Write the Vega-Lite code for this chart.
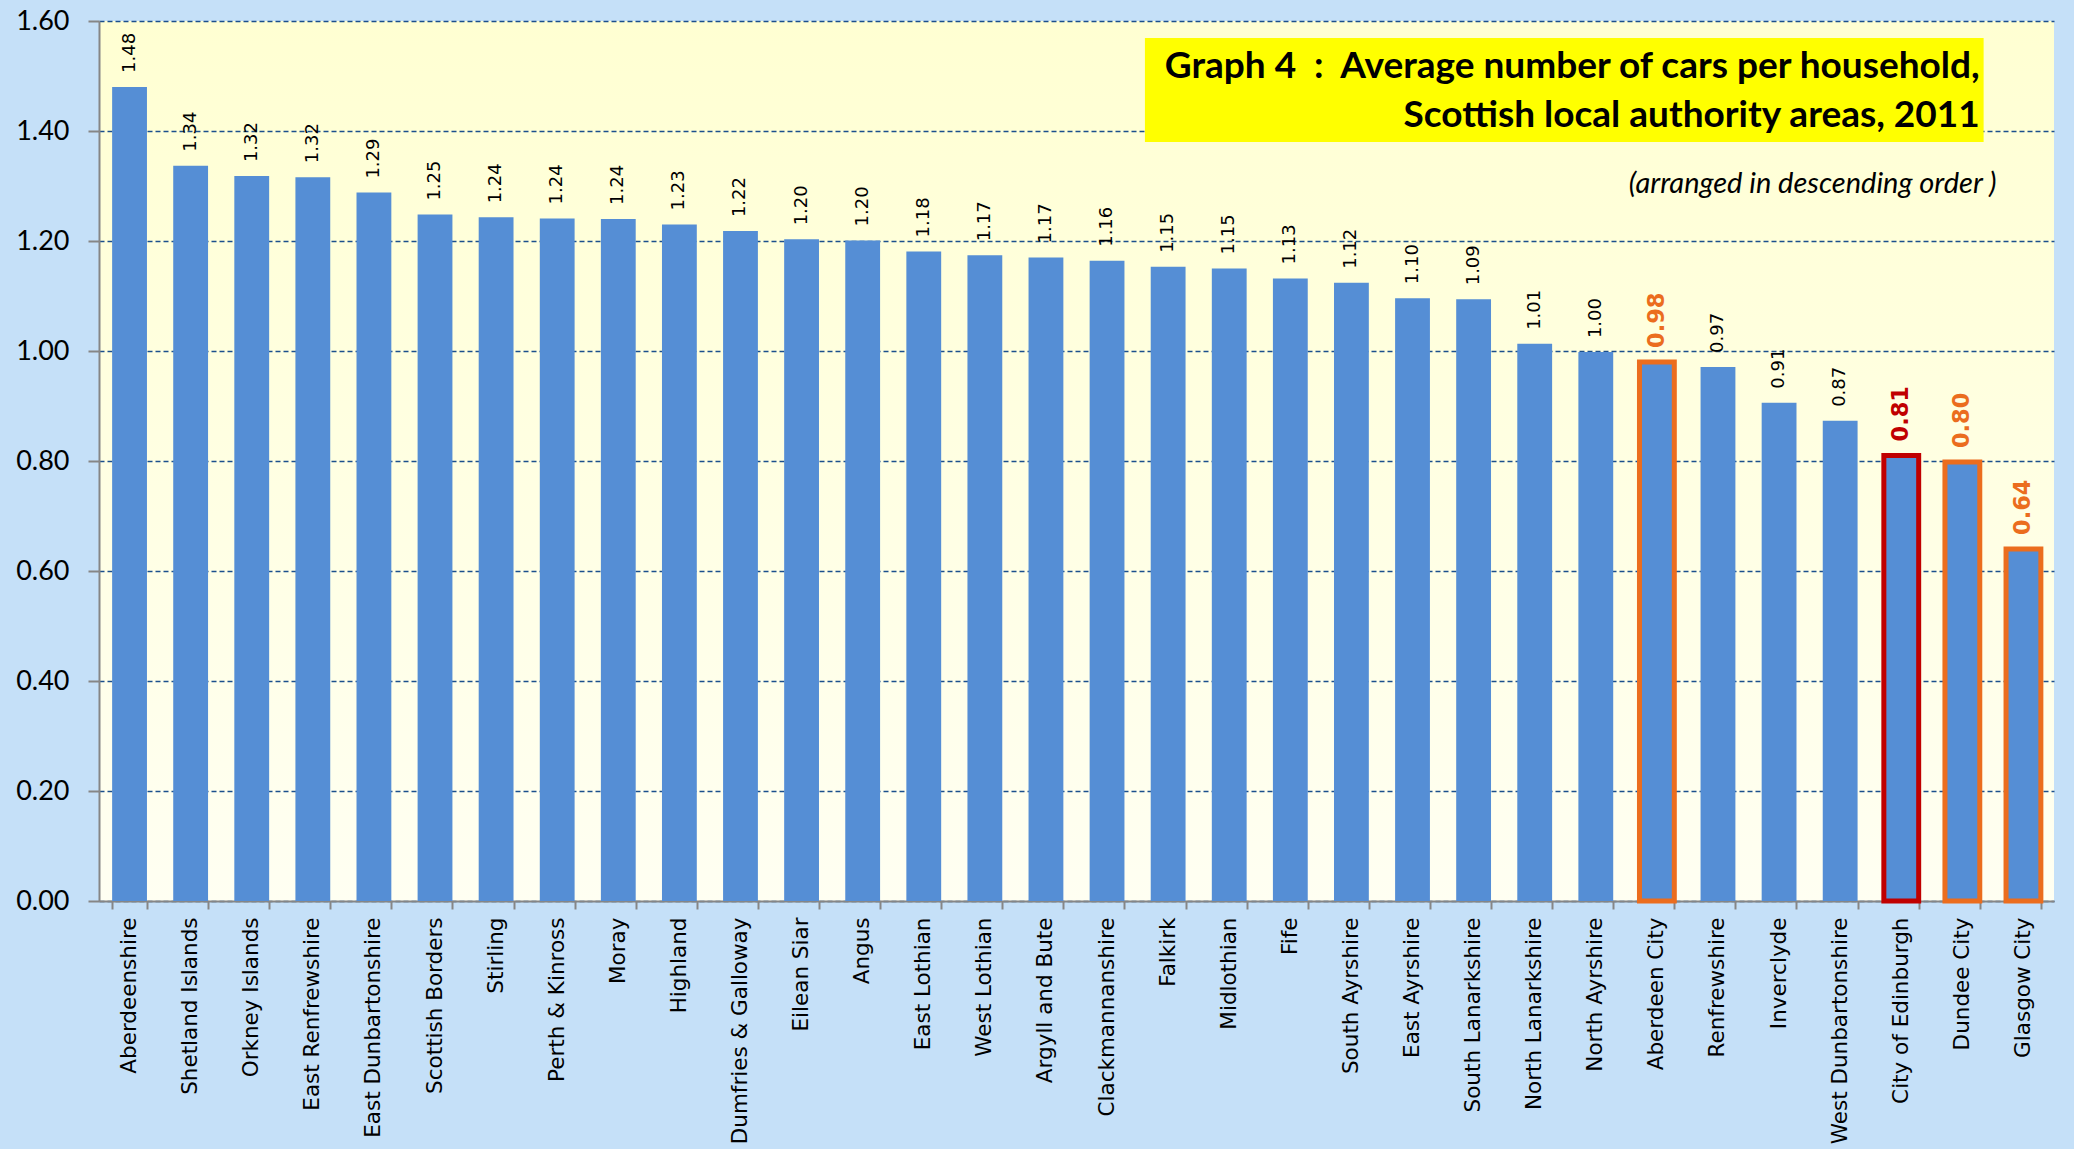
{
  "$schema": "https://vega.github.io/schema/vega-lite/v6.json",
  "width": 1955,
  "height": 880,
  "autosize": {"type": "none"},
  "padding": {"left": 99, "top": 21, "right": 20, "bottom": 248},
  "background": "#C5E0F8",
  "config": {
    "view": {
      "stroke": null,
      "fill": {"gradient": "linear", "x1": 0, "y1": 0, "x2": 0, "y2": 1, "stops": [{"offset": 0, "color": "#FFFFD2"}, {"offset": 1, "color": "#FFFFF2"}]}
    },
    "font": "DejaVu Sans"
  },
  "data": {
    "values": [
      {"area": "Aberdeenshire", "value": 1.48, "highlight": "none"},
      {"area": "Shetland Islands", "value": 1.337, "highlight": "none"},
      {"area": "Orkney Islands", "value": 1.318, "highlight": "none"},
      {"area": "East Renfrewshire", "value": 1.316, "highlight": "none"},
      {"area": "East Dunbartonshire", "value": 1.288, "highlight": "none"},
      {"area": "Scottish Borders", "value": 1.248, "highlight": "none"},
      {"area": "Stirling", "value": 1.243, "highlight": "none"},
      {"area": "Perth & Kinross", "value": 1.241, "highlight": "none"},
      {"area": "Moray", "value": 1.24, "highlight": "none"},
      {"area": "Highland", "value": 1.23, "highlight": "none"},
      {"area": "Dumfries & Galloway", "value": 1.218, "highlight": "none"},
      {"area": "Eilean Siar", "value": 1.203, "highlight": "none"},
      {"area": "Angus", "value": 1.201, "highlight": "none"},
      {"area": "East Lothian", "value": 1.181, "highlight": "none"},
      {"area": "West Lothian", "value": 1.174, "highlight": "none"},
      {"area": "Argyll and Bute", "value": 1.17, "highlight": "none"},
      {"area": "Clackmannanshire", "value": 1.164, "highlight": "none"},
      {"area": "Falkirk", "value": 1.153, "highlight": "none"},
      {"area": "Midlothian", "value": 1.15, "highlight": "none"},
      {"area": "Fife", "value": 1.132, "highlight": "none"},
      {"area": "South Ayrshire", "value": 1.124, "highlight": "none"},
      {"area": "East Ayrshire", "value": 1.096, "highlight": "none"},
      {"area": "South Lanarkshire", "value": 1.094, "highlight": "none"},
      {"area": "North Lanarkshire", "value": 1.013, "highlight": "none"},
      {"area": "North Ayrshire", "value": 0.998, "highlight": "none"},
      {"area": "Aberdeen City", "value": 0.98, "highlight": "orange"},
      {"area": "Renfrewshire", "value": 0.971, "highlight": "none"},
      {"area": "Inverclyde", "value": 0.906, "highlight": "none"},
      {"area": "West Dunbartonshire", "value": 0.873, "highlight": "none"},
      {"area": "City of Edinburgh", "value": 0.81, "highlight": "red"},
      {"area": "Dundee City", "value": 0.798, "highlight": "orange"},
      {"area": "Glasgow City", "value": 0.64, "highlight": "orange"}
    ]
  },
  "layer": [
    {
      "layer": [
        {
          "mark": {"type": "bar", "color": "#558ED5"},
          "encoding": {
            "x": {
              "field": "area", "type": "nominal", "sort": null,
              "scale": {"paddingInner": 0.43, "paddingOuter": 0.215},
              "axis": {
                "title": null, "labelAngle": -90, "labelAlign": "right", "labelBaseline": "middle",
                "labelFont": "DejaVu Sans", "labelFontSize": 21.5, "labelColor": "#000000", "labelPadding": 8,
                "domainColor": "#868686", "domainWidth": 2, "tickColor": "#868686", "tickWidth": 2, "tickSize": 8,
                "tickBand": "extent", "grid": false, "labelLimit": 400
              }
            },
            "y": {
              "field": "value", "type": "quantitative",
              "scale": {"domain": [0, 1.6], "nice": false},
              "axis": {
                "title": null, "values": [0, 0.2, 0.4, 0.6, 0.8, 1.0, 1.2, 1.4, 1.6], "format": ".2f",
                "labelFont": "Lato", "labelFontSize": 27, "labelColor": "#000000", "labelPadding": 19,
                "domainColor": "#868686", "domainWidth": 2, "tickColor": "#868686", "tickWidth": 2, "tickSize": 11,
                "grid": true, "gridColor": "#1B4F8C", "gridDash": [5, 3], "gridWidth": 1.5
              }
            },
            "stroke": {
              "field": "highlight", "type": "nominal",
              "scale": {"domain": ["none", "orange", "red"], "range": ["#558ED5", "#EB6D1E", "#C00000"]},
              "legend": null
            },
            "strokeWidth": {
              "condition": {"test": "datum.highlight != 'none'", "value": 5},
              "value": 0
            }
          }
        },
        {
          "transform": [{"filter": "datum.highlight == 'none'"}],
          "mark": {"type": "text", "angle": -90, "align": "left", "baseline": "middle", "dx": 14, "font": "DejaVu Sans", "fontSize": 18, "color": "#000000"},
          "encoding": {
            "x": {"field": "area", "type": "nominal", "sort": null},
            "y": {"field": "value", "type": "quantitative"},
            "text": {"field": "value", "type": "quantitative", "format": ".2f"}
          }
        },
        {
          "transform": [{"filter": "datum.highlight != 'none'"}],
          "mark": {"type": "text", "angle": -90, "align": "left", "baseline": "middle", "dx": 14, "font": "DejaVu Sans", "fontSize": 22.5, "fontWeight": "bold"},
          "encoding": {
            "x": {"field": "area", "type": "nominal", "sort": null},
            "y": {"field": "value", "type": "quantitative"},
            "text": {"field": "value", "type": "quantitative", "format": ".2f"},
            "color": {
              "field": "highlight", "type": "nominal",
              "scale": {"domain": ["orange", "red"], "range": ["#EB6D1E", "#C00000"]},
              "legend": null
            }
          }
        }
      ]
    },
    {
      "data": {"values": [{}]},
      "mark": {"type": "rect", "color": "#FFFF00"},
      "encoding": {
        "x": {"datum": 0.535, "type": "quantitative", "scale": {"domain": [0, 1]}, "axis": null},
        "x2": {"datum": 0.964},
        "y": {"datum": 1.569, "type": "quantitative"},
        "y2": {"datum": 1.38}
      }
    },
    {
      "data": {"values": [{"line": "Graph 4\u00a0 :\u00a0 Average number of cars per household,", "pos": 1.516}, {"line": "Scottish local authority areas, 2011", "pos": 1.427}]},
      "mark": {"type": "text", "align": "right", "baseline": "middle", "font": "Lato", "fontSize": 37, "fontWeight": "bold", "color": "#000000"},
      "encoding": {
        "x": {"datum": 0.962, "type": "quantitative", "scale": {"domain": [0, 1]}, "axis": null},
        "y": {"field": "pos", "type": "quantitative"},
        "text": {"field": "line"}
      }
    },
    {
      "data": {"values": [{"note": "(arranged in descending order )"}]},
      "mark": {"type": "text", "align": "right", "baseline": "middle", "font": "Lato", "fontSize": 29, "fontStyle": "italic", "color": "#000000"},
      "encoding": {
        "x": {"datum": 0.9706, "type": "quantitative", "scale": {"domain": [0, 1]}, "axis": null},
        "y": {"datum": 1.304, "type": "quantitative"},
        "text": {"field": "note"}
      }
    }
  ],
  "resolve": {"scale": {"x": "independent"}}
}
